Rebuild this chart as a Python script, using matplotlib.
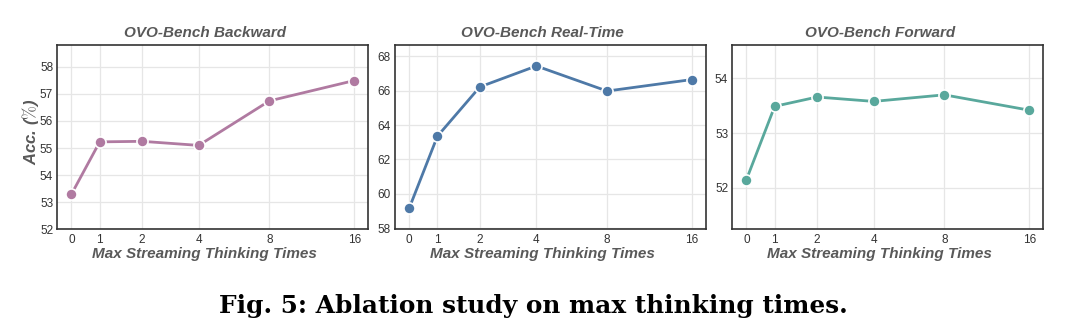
import numpy as np
import matplotlib
matplotlib.use("Agg")
import matplotlib.pyplot as plt

# Max streaming thinking times (x) and accuracy per benchmark split
think_times = [0, 1, 2, 4, 8, 16]
acc_backward = [53.30, 55.23, 55.25, 55.10, 56.74, 57.49]
acc_realtime = [59.15, 63.35, 66.22, 67.44, 65.98, 66.65]
acc_forward = [52.15, 53.49, 53.66, 53.58, 53.70, 53.42]

titles = ["OVO-Bench Backward", "OVO-Bench Real-Time", "OVO-Bench Forward"]
colors = ["#B07AA1", "#4E79A7", "#59A89C"]
ylims = [(52.0, 58.8), (57.92, 68.66), (51.24, 54.61)]
yticks = [np.arange(52, 59, 1), np.arange(58, 69, 2), [52, 53, 54]]

# axis spacing used in the original: gaps grow 2,3,4,5,6 units
scale_in = [-1, 0, 1, 2, 4, 8, 16, 17]
scale_out = [-1, 0, 2, 5, 9, 14, 20, 21]


def fwd(x):
    return np.interp(x, scale_in, scale_out)


def inv(x):
    return np.interp(x, scale_out, scale_in)


plt.rcParams['font.family'] = ['Liberation Sans', 'DejaVu Sans']
plt.rcParams['mathtext.fontset'] = 'cm'

fig = plt.figure(figsize=(10.67, 3.36), dpi=100)
lefts = [0.0537, 0.3702, 0.6863]
width = 0.2915
bottom, top = 0.317, 0.866

series = [acc_backward, acc_realtime, acc_forward]
for i in range(3):
    ax = fig.add_axes([lefts[i], bottom, width, top - bottom])
    ax.set_xscale('function', functions=(fwd, inv))
    ax.grid(True, color='#e6e6e6', linewidth=0.9)
    ax.set_axisbelow(True)
    ax.plot(think_times, series[i], color=colors[i], linewidth=2,
            marker='o', markersize=8, markeredgecolor='white',
            markeredgewidth=1.2, zorder=3)
    ax.set_xlim(-1, 17)
    ax.set_ylim(*ylims[i])
    ax.set_xticks(think_times)
    ax.set_xticklabels([str(t) for t in think_times])
    ax.set_yticks(yticks[i])
    ax.tick_params(labelsize=8.5, colors='#333333', length=0, pad=3)
    for sp in ax.spines.values():
        sp.set_color('#333333')
        sp.set_linewidth(1.2)
    ax.set_title(titles[i], fontsize=11, fontweight='bold', style='italic',
                 color='#595959', pad=6, x=0.474)
    ax.set_xlabel('Max Streaming Thinking Times', fontsize=11,
                  fontweight='bold', style='italic', color='#595959',
                  labelpad=1)
    ax.xaxis.label.set_x(0.474)
    if i == 0:
        ax.set_ylabel(r'Acc. ($\%$)', fontsize=12, fontweight='bold',
                      style='italic', color='#595959')
        ax.yaxis.set_label_coords(-0.052, 0.53)

fig.text(0.5, 0.09, 'Fig. 5: Ablation study on max thinking times.',
         ha='center', va='center', fontsize=17.8, fontweight='bold',
         family='DejaVu Serif')

fig.savefig('out.png', dpi=100, facecolor='white')
